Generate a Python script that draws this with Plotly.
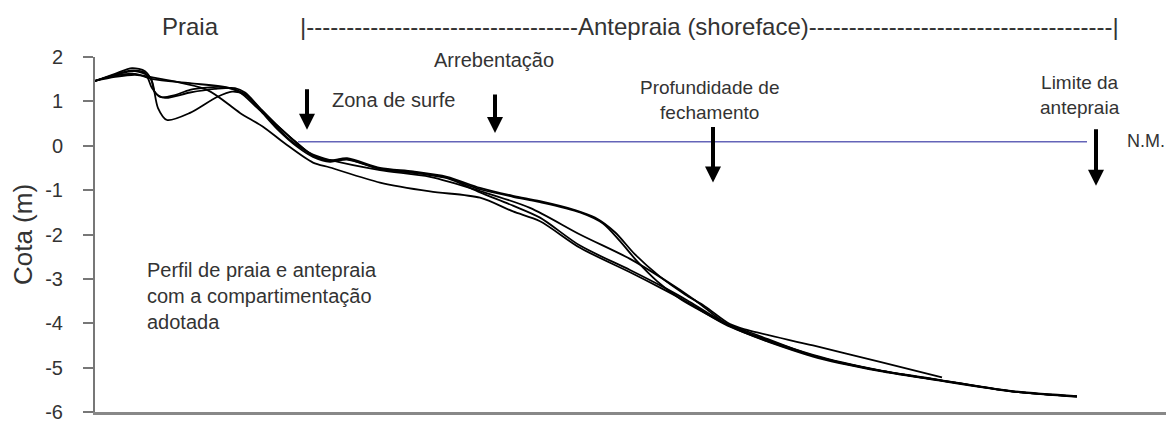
import plotly.graph_objects as go

# distance along profile (arbitrary units) and elevation (m) for each survey
x_p1 = [0, 20, 37, 50, 57, 63, 72, 95, 122, 137, 150, 165, 182, 202, 218, 235, 252, 285, 325, 352,
        385, 418, 445, 485, 508, 525, 542, 562, 585, 598, 635, 652, 718, 785, 835, 918, 982]
y_p1 = [1.46, 1.62, 1.75, 1.68, 1.45, 0.85, 0.58, 0.74, 1.10, 1.22, 1.15, 0.80, 0.38, -0.02, -0.25, -0.36,
        -0.31, -0.52, -0.62, -0.72, -0.98, -1.15, -1.27, -1.50, -1.75, -2.15, -2.60, -3.05, -3.45, -3.62,
        -4.06, -4.18, -4.73, -5.07, -5.25, -5.54, -5.65]

x_p2 = [0, 20, 37, 50, 57, 65, 80, 95, 128, 145, 160, 180, 200, 218, 235, 252, 285, 318, 352, 385,
        418, 445, 480, 500, 520, 540, 565, 590, 610, 635, 652, 718, 785, 847]
y_p2 = [1.46, 1.60, 1.70, 1.64, 1.30, 1.10, 1.14, 1.26, 1.32, 1.20, 0.90, 0.50, 0.10, -0.22, -0.33, -0.28,
        -0.50, -0.58, -0.70, -0.95, -1.13, -1.25, -1.45, -1.62, -1.95, -2.45, -2.95, -3.35, -3.62, -4.02,
        -4.15, -4.50, -4.87, -5.22]

x_p3 = [0, 20, 40, 58, 95, 135, 152, 172, 195, 218, 235, 285, 335, 385, 435, 485, 535, 568, 600, 635,
        718, 785, 835, 918, 982]
y_p3 = [1.46, 1.58, 1.62, 1.50, 1.41, 1.30, 1.14, 0.65, 0.13, -0.20, -0.32, -0.55, -0.70, -1.02, -1.40,
        -2.00, -2.55, -3.00, -3.48, -4.06, -4.75, -5.08, -5.26, -5.54, -5.66]

x_p4 = [0, 20, 40, 55, 112, 145, 168, 190, 218, 235, 285, 335, 385, 418, 445, 485, 535, 568, 592, 635,
        718, 785, 835, 918, 982]
y_p4 = [1.46, 1.55, 1.60, 1.55, 1.26, 0.74, 0.43, 0.05, -0.38, -0.49, -0.83, -1.03, -1.17, -1.48, -1.70,
        -2.30, -2.85, -3.23, -3.52, -4.08, -4.73, -5.07, -5.25, -5.54, -5.65]

x_p5 = [0, 20, 40, 55, 60, 70, 95, 120, 140, 150, 165, 185, 205, 218, 235, 252, 285, 325, 352, 385,
        418, 445, 485, 535, 568, 592, 635, 718, 785, 835, 918, 982]
y_p5 = [1.46, 1.60, 1.68, 1.55, 1.20, 1.08, 1.20, 1.28, 1.30, 1.20, 0.85, 0.40, 0.00, -0.22, -0.34, -0.30,
        -0.52, -0.63, -0.73, -1.05, -1.35, -1.62, -2.25, -2.80, -3.18, -3.48, -4.05, -4.71, -5.06, -5.24,
        -5.53, -5.64]

profiles = [(x_p1, y_p1), (x_p2, y_p2), (x_p3, y_p3), (x_p4, y_p4), (x_p5, y_p5)]

# mean sea level (N.M.)
nm_x = [203, 992]
nm_y = [0.09, 0.09]

# arrow tips: surf zone start, breaker, closure depth, shoreface limit
arrow_x = [212, 400, 618, 1001]
arrow_y = [0.36, 0.29, -0.83, -0.90]
arrow_len = [42, 40, 57, 58]

y_ticks = [2, 1, 0, -1, -2, -3, -4, -5, -6]
y_ticktext = ["2", "1", "0", "-1", "-2", "-3", "-4", "-5", "-6"]

txt = "#333333"
font = "Liberation Sans, Arial, sans-serif"

fig = go.Figure()

for xs, ys in profiles:
    fig.add_trace(go.Scatter(x=xs, y=ys, mode="lines",
                             line=dict(color="black", width=1.8, shape="spline", smoothing=0.8),
                             hoverinfo="skip"))

fig.add_trace(go.Scatter(x=nm_x, y=nm_y, mode="lines",
                         line=dict(color="#6464b8", width=1.5), hoverinfo="skip"))

for ax_, ay_, ln in zip(arrow_x, arrow_y, arrow_len):
    fig.add_annotation(x=ax_, y=ay_, ax=0, ay=-ln, text="", showarrow=True,
                       arrowhead=2, arrowsize=0.8, arrowwidth=4, arrowcolor="black")

labels = [
    (399, 1.93, "Arrebentação", 20),
    (298, 1.03, "Zona de surfe", 20),
    (614, 1.03, "Profundidade de<br>fechamento", 19),
    (985, 1.14, "Limite da<br>antepraia", 19),
    (1051, 0.11, "N.M.", 18),
]
for lx, ly, lt, fs in labels:
    fig.add_annotation(x=lx, y=ly, text=lt, showarrow=False, align="center",
                       font=dict(size=fs, color=txt, family=font))

# headers above the plot area (paper coords so they are not hidden)
fig.add_annotation(x=95, y=1.086, yref="paper", yanchor="middle", showarrow=False, text="Praia",
                   font=dict(size=24, color=txt, family=font))
fig.add_annotation(x=203, y=1.086, yref="paper", xanchor="left", yanchor="middle", showarrow=False,
                   text="|" + "-" * 34 + "Antepraia (shoreface)" + "-" * 38 + "|",
                   font=dict(size=24, color=txt, family=font))

fig.add_annotation(x=50, y=-3.39, xanchor="left", showarrow=False, align="left",
                   text="Perfil de praia e antepraia<br>com a compartimentação<br>adotada",
                   font=dict(size=20, color=txt, family=font))

# page body has an 8px margin, so the figure is shrunk by that amount
fig.update_layout(
    width=1166, height=417,
    margin=dict(l=87, r=2, t=49, b=11),
    paper_bgcolor="white", plot_bgcolor="white",
    showlegend=False,
    font=dict(family=font, color=txt),
)
fig.update_xaxes(range=[0, 1077], showgrid=False, zeroline=False, showticklabels=False,
                 showline=True, linecolor="#888888", linewidth=3, ticks="")
fig.update_yaxes(range=[-6, 2], tickvals=y_ticks, ticktext=y_ticktext, showgrid=False, zeroline=False,
                 showline=True, linecolor="#777777", linewidth=2,
                 ticks="outside", ticklen=10, tickcolor="#777777", tickwidth=2,
                 ticklabelstandoff=16, tickfont=dict(size=20, color=txt),
                 title=dict(text="Cota (m)", font=dict(size=26, color=txt), standoff=6))

fig.write_html("out.html")
